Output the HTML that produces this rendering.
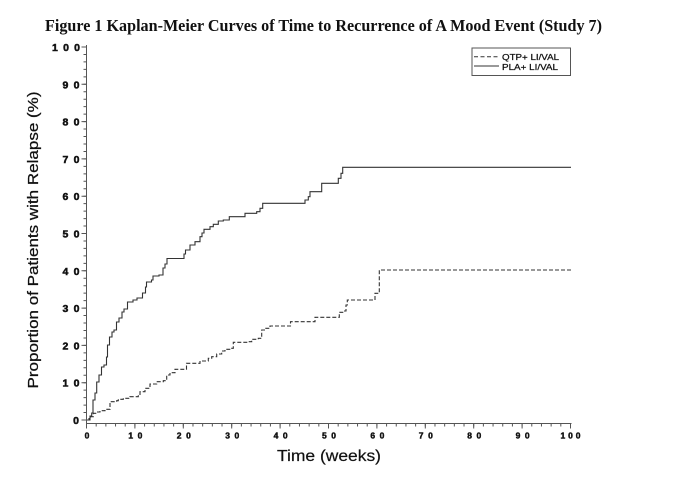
<!DOCTYPE html>
<html><head><meta charset="utf-8"><style>
html,body{margin:0;padding:0;background:#fff;}
svg{display:block;}
</style></head><body>
<svg width="676" height="480" viewBox="0 0 676 480" xmlns="http://www.w3.org/2000/svg">
<rect width="676" height="480" fill="#fff"/>
<text x="45" y="31" font-family="Liberation Serif, serif" font-weight="bold" font-size="16.5" fill="#111" textLength="557" lengthAdjust="spacingAndGlyphs">Figure 1  Kaplan-Meier Curves of Time to Recurrence of A Mood Event (Study 7)</text>

<!-- axes -->
<path d="M86.5,45 V423.5 H571.5" fill="none" stroke="#555" stroke-width="1"/>
<path d="M86,425 H572" stroke="#555" stroke-width="3" stroke-dasharray="1 8.68" fill="none"/>
<path d="M86,426 H572" stroke="#555" stroke-width="5" stroke-dasharray="1 47.4" fill="none"/>
<path d="M85,420.5 V45" stroke="#555" stroke-width="3" stroke-dasharray="1 6.46" fill="none"/>
<path d="M84,420.5 V45" stroke="#555" stroke-width="5" stroke-dasharray="1 36.3" fill="none"/>

<!-- y tick labels -->
<g font-family="Liberation Sans, sans-serif" font-weight="bold" font-size="10.5" fill="#111" stroke="#111" stroke-width="0.5" text-anchor="end">
<text x="79" y="424">0</text>
<text x="79.5" y="386.7" textLength="17" lengthAdjust="spacing">10</text>
<text x="79.5" y="349.4" textLength="17" lengthAdjust="spacing">20</text>
<text x="79.5" y="312" textLength="17" lengthAdjust="spacing">30</text>
<text x="79.5" y="274.8" textLength="17" lengthAdjust="spacing">40</text>
<text x="79.5" y="237.5" textLength="17" lengthAdjust="spacing">50</text>
<text x="79.5" y="200.2" textLength="17" lengthAdjust="spacing">60</text>
<text x="79.5" y="162.9" textLength="17" lengthAdjust="spacing">70</text>
<text x="79.5" y="125.6" textLength="17" lengthAdjust="spacing">80</text>
<text x="79.5" y="88.3" textLength="17" lengthAdjust="spacing">90</text>
<text x="80" y="51" textLength="28" lengthAdjust="spacing">100</text>
</g>

<!-- x tick labels -->
<g font-family="Liberation Sans, sans-serif" font-weight="bold" font-size="8.5" fill="#111" stroke="#111" stroke-width="0.45" text-anchor="middle">
<text x="87" y="438.5">0</text>
<text x="135.4" y="438.5" textLength="14" lengthAdjust="spacing">10</text>
<text x="183.8" y="438.5" textLength="14" lengthAdjust="spacing">20</text>
<text x="232.2" y="438.5" textLength="14" lengthAdjust="spacing">30</text>
<text x="280.6" y="438.5" textLength="14" lengthAdjust="spacing">40</text>
<text x="329" y="438.5" textLength="14" lengthAdjust="spacing">50</text>
<text x="377.4" y="438.5" textLength="14" lengthAdjust="spacing">60</text>
<text x="425.8" y="438.5" textLength="14" lengthAdjust="spacing">70</text>
<text x="474.2" y="438.5" textLength="14" lengthAdjust="spacing">80</text>
<text x="522.6" y="438.5" textLength="14" lengthAdjust="spacing">90</text>
<text x="570.5" y="438.5" textLength="20" lengthAdjust="spacing">100</text>
</g>

<!-- axis titles -->
<text x="329" y="461" font-family="Liberation Sans, sans-serif" font-size="15.5" fill="#111" stroke="#111" stroke-width="0.2" text-anchor="middle" textLength="104" lengthAdjust="spacingAndGlyphs">Time (weeks)</text>
<text transform="translate(38,240) rotate(-90)" font-family="Liberation Sans, sans-serif" font-size="14.5" fill="#111" stroke="#111" stroke-width="0.25" text-anchor="middle" textLength="297" lengthAdjust="spacingAndGlyphs">Proportion of Patients with Relapse (%)</text>

<!-- solid curve PLA -->
<path fill="none" stroke="#333" stroke-width="1.1" d="M87,420 H90 V416 H91.7 V413 H93 V400 H95 V393 H96.7 V382 H99 V375 H101.5 V367 H104 V365 H106.5 V357 H107.5 V345 H109.5 V337 H112 V332 H114 V330 H116.5 V322 H119 V318 H122 V312 H124 V309 H127.5 V302 H133 V300 H137 V298 H142.5 V293 H145.5 V287 H146.5 V282 H151.5 V280 H153 V276 H159 V275 H163 V268 H165 V264 H167 V258.5 H184 V254 H185.5 V250 H190 V245 H195 V241.7 H200 V236.7 H202 V233 H204 V229.3 H210 V226.7 H213.3 V224.3 H218.3 V221 H223.3 V220 H229.3 V216.7 H245 V213.3 H256.7 V211.7 H260 V208.3 H262.7 V203.3 H305 V200 H308.3 V196.7 H310 V191.7 H321.7 V183.3 H338.3 V178.3 H341 V173.3 H342.7 V167.3 H571"/>

<!-- dashed curve QTP -->
<path fill="none" stroke="#333" stroke-width="1.1" stroke-dasharray="4 2" d="M87,420 H89 V418 H90.5 V416.7 H93.3 V413.3 H97 V412 H100 V410.7 H105 V409.3 H110 V401.7 H116.7 V400.7 H118.3 V399.3 H123.3 V398.3 H130 V396.7 H138.3 V395 H140 V391.7 H145 V388.3 H150 V384 H156.7 V381.7 H163.3 V380.7 H166.7 V375 H170 V372.7 H175 V369.3 H186.5 V363.3 H200 V361 H208.3 V358.3 H211.7 V356.7 H216.7 V354 H221.7 V351 H225 V349.3 H231.7 V348.3 H233.3 V342.3 H248.3 V341.7 H251.7 V339.3 H258.3 V338.3 H261.7 V330 H265 V328.3 H270 V326 H290.5 V321.7 H315 V317.3 H339.3 V312.3 H343.3 V311 H346 V305 H347.3 V300 H375 V293.3 H379.3 V270 H571"/>

<!-- legend -->
<rect x="472" y="48" width="98.5" height="27.5" fill="#fff" stroke="#555" stroke-width="1"/>
<path d="M474,56.7 H499" stroke="#333" stroke-width="1" stroke-dasharray="4 2.5"/>
<path d="M474,66 H499" stroke="#333" stroke-width="1"/>
<g font-family="Liberation Sans, sans-serif" font-size="8.5" fill="#111" stroke="#111" stroke-width="0.25">
<text x="502" y="60" textLength="57" lengthAdjust="spacingAndGlyphs">QTP+ LI/VAL</text>
<text x="502" y="70" textLength="56" lengthAdjust="spacingAndGlyphs">PLA+ LI/VAL</text>
</g>
</svg>
</body></html>
